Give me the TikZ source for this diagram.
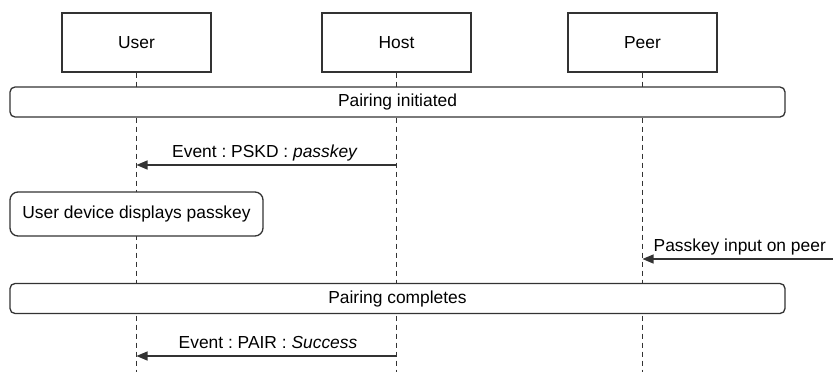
\documentclass[tikz,border=0pt]{standalone}
\usepackage{fontspec}
\setmainfont{Liberation Sans}
\usetikzlibrary{arrows.meta}
\begin{document}
\frenchspacing
\begin{tikzpicture}[x=1pt,y=-1pt,
  font=\fontsize{17.4}{21}\selectfont,
  actor/.style={draw=black!80, line width=1.3pt, fill=white, minimum width=149pt, minimum height=59pt, inner sep=0pt},
  lifeline/.style={draw=black!80, line width=1.2pt, dash pattern=on 5pt off 4pt},
  band/.style={draw=black!80, line width=1.3pt, fill=white, rounded corners=5pt, minimum width=775pt, minimum height=30pt, inner sep=0pt},
  notebox/.style={draw=black!80, line width=1.3pt, fill=white, rounded corners=8pt, minimum width=253pt, minimum height=44pt, inner sep=0pt},
  msg/.style={draw=black!80, line width=1.3pt, -{Triangle[length=11pt,width=9pt]}},
  lbl/.style={inner sep=0pt, anchor=base, yshift=7.5pt}
]
\useasboundingbox (0,0) rectangle (833,372);
% actors
\node[actor] (user) at (136.5,42.5) {User};
\node[actor] (host) at (396.5,42.5) {Host};
\node[actor] (peer) at (642.5,42.5) {Peer};
% lifeline ends
\coordinate (ue) at (136.5,372);
\coordinate (he) at (396.5,372);
\coordinate (pe) at (642.5,372);
\draw[lifeline] (user) -- (ue);
\draw[lifeline] (host) -- (he);
\draw[lifeline] (peer) -- (pe);
% bands and note
\node[band] (init) at (397.5,102) {Pairing initiated};
\node[notebox] (disp) at (136.5,214) {User device displays passkey};
\node[band] (done) at (397.5,298.5) {Pairing completes};
% messages
\coordinate (h1) at (396.5,165);
\coordinate (u1) at (136.5,165);
\draw[msg] (h1) -- node[lbl, xshift=-1.5pt] {Event : PSKD : \textit{passkey}} (u1);
\coordinate (pin) at (833,259);
\coordinate (p1) at (642.5,259);
\draw[msg] (pin) -- node[lbl, xshift=2pt] {Passkey input on peer} (p1);
\coordinate (h2) at (396.5,356);
\coordinate (u2) at (136.5,356);
\draw[msg] (h2) -- node[lbl, xshift=1.5pt] {Event : PAIR : \textit{Success}} (u2);
\end{tikzpicture}
\end{document}
